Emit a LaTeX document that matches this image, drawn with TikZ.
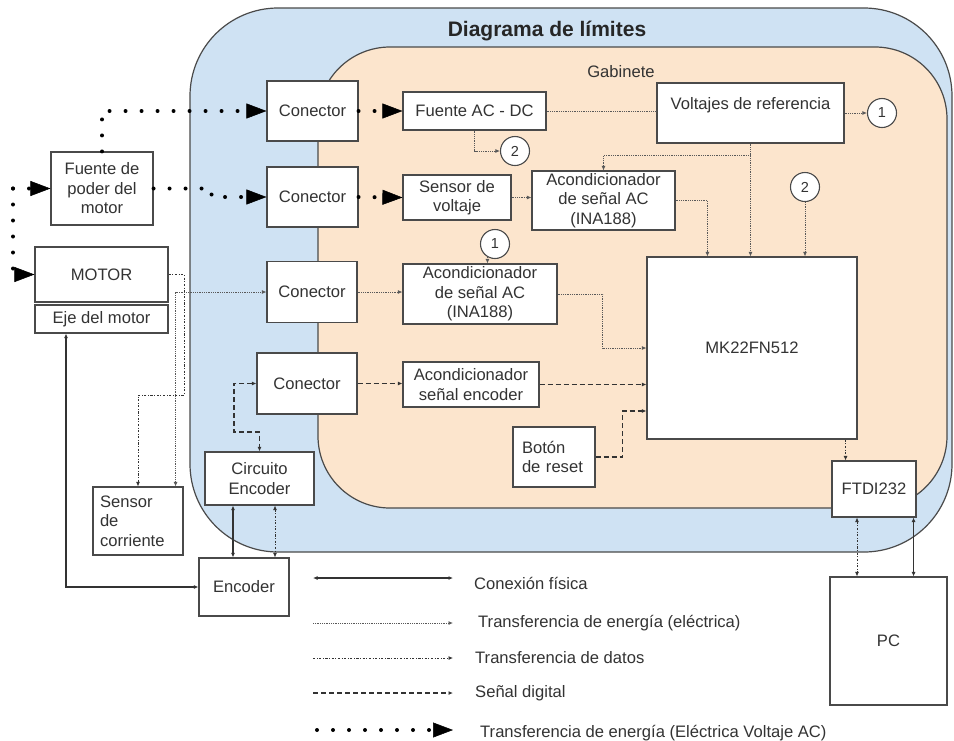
\documentclass[tikz,border=0pt]{standalone}
\usepackage{fontspec}
\setmainfont{Liberation Sans}
\usetikzlibrary{arrows.meta,calc}
\definecolor{bluebg}{HTML}{CFE2F3}
\definecolor{orangebg}{HTML}{FCE5CD}
\definecolor{edge}{HTML}{4A4A4A}
\definecolor{txt}{HTML}{333333}
\begin{document}
\begin{tikzpicture}[x=1pt,y=-1pt,
  font=\fontsize{16.6}{19.5}\selectfont, text=txt,
  >={Latex[length=4.5pt,width=4pt]},
  box/.style={draw=edge, line width=1.1pt, fill=white, inner sep=2pt, align=center},
  circ/.style={circle, draw=edge, line width=1.1pt, fill=white, minimum size=29pt, inner sep=0pt, font=\fontsize{14.5}{16}\selectfont},
  elec/.style={draw=black!65, line width=0.8pt, dash pattern=on 0.8pt off 1pt},
  data/.style={draw=black!80, line width=0.8pt, dash pattern=on 2.2pt off 1.6pt on 0.8pt off 1.6pt},
  dig/.style={draw=black!80, line width=1.1pt, dash pattern=on 5pt off 3pt},
  phys/.style={draw=black!80, line width=1.1pt},
  ac/.style={draw=black, line width=4pt, dash pattern=on 0pt off 16pt, line cap=round,
    -{Triangle[length=20pt,width=15pt,line width=0.5pt]}},
  region/.style={draw=edge, line width=1.2pt}
]
\useasboundingbox (0,0) rectangle (954,740);
% regions
\path[region, fill=bluebg, rounded corners=88pt] (190,8) rectangle (952,552);
\path[region, fill=orangebg, rounded corners=72pt] (318,47) rectangle (947,508);
\node[font=\bfseries\fontsize{21}{24}\selectfont, text=black!85] (title) at (547,31) {Diagrama de límites};
\node (gab) at (621,72) {Gabinete};

% left column
\node[box, minimum width=102pt, minimum height=73pt] (fpm) at (102,188.5) {Fuente de\\poder del\\motor};
\node[box, minimum width=133pt, minimum height=55pt] (motor) at (101.5,274.5) {MOTOR};
\node[box, minimum width=133pt, minimum height=28pt] (eje) at (101.5,319) {Eje del motor};
\node[box, inner xsep=7pt, text width=76pt, align=left, minimum height=68pt] (sc) at (138,521) {Sensor\\de\\corriente};
\node[box, minimum width=90pt, minimum height=58pt] (enc) at (244,587) {Encoder};
\node[box, minimum width=109pt, minimum height=53pt] (cenc) at (259.5,478.5) {Circuito\\Encoder};

% connectors
\node[box, minimum width=91pt, minimum height=60pt] (con1) at (312.5,111) {Conector};
\node[box, minimum width=91pt, minimum height=60pt] (con2) at (312.5,197) {Conector};
\node[box, minimum width=90pt, minimum height=61pt] (con3) at (312,292) {Conector};
\node[box, minimum width=100pt, minimum height=61pt] (con4) at (307,383.5) {Conector};

% cabinet
\node[box, minimum width=143pt, minimum height=38pt] (facdc) at (474.5,111) {Fuente AC - DC};
\node[box, minimum width=108pt, minimum height=45pt] (sv) at (457,197.5) {Sensor de\\voltaje};
\node[box, minimum width=143pt, minimum height=59pt] (acu) at (603.5,200.5) {Acondicionador\\de señal AC\\(INA188)};
\node[box, minimum width=154pt, minimum height=60pt] (acl) at (480,294) {Acondicionador\\de señal AC\\(INA188)};
\node[box, minimum width=136pt, minimum height=45pt] (ace) at (471,384.5) {Acondicionador\\señal encoder};
\node[box, inner xsep=9pt, text width=64pt, align=left, minimum height=60pt] (bot) at (554,457) {Botón\\de reset};
\node[box, minimum width=210pt, minimum height=182pt] (mk) at (752,348) {MK22FN512};
\node[box, minimum width=187pt, minimum height=60pt] (vref) at (750.5,113) {Voltajes de referencia\\\mbox{}};
\node[box, minimum width=84pt, minimum height=56pt] (ftdi) at (874,489) {FTDI232};
\node[box, minimum width=117pt, minimum height=128pt] (pc) at (888.5,641) {PC};

\node[circ] (c1a) at (882,113) {1};
\node[circ] (c2a) at (515,151) {2};
\node[circ] (c1b) at (495,244) {1};
\node[circ] (c2b) at (805,187) {2};

% AC power transfer
\coordinate (src) at (13,188.5);
\draw[ac] (src) -- (fpm.west);
\draw[ac] (src) |- (motor.west);
\draw[ac] (fpm.north) |- (con1.west);
\draw[ac] (fpm.east) -- ++(58,0) |- (con2.west);
\draw[ac] (con1.east) -- (facdc.west);
\draw[ac] (con2.east) -- (sv.west);

% electrical energy
\draw[elec] (facdc.east) -- (vref.west |- facdc.east);
\draw[elec,->] (facdc.south) |- (c2a.west);
\draw[elec,->] (vref.east) -- (c1a.west);
\draw[elec,->] (vref.south) -- (vref.south |- mk.north);
\coordinate (vb) at ($(vref.south)+(0,12)$);
\draw[elec,->] (vb) -| (acu.north);
\draw[elec,->] (acu.east) -| ($(mk.north west)+(61,0)$);
\draw[elec,->] (c2b.south) -- (c2b.south |- mk.north);
\draw[elec,->] (sv.east) -- (sv.east -| acu.west);
\draw[elec,->] (c1b.240) -- (c1b.240 |- acl.north);
\draw[elec,->] (con3.east) -- (con3.east -| acl.west);
\draw[elec,->] (acl.east) -- ++(45,0) |- (mk.west);
\draw[elec,<->] (con3.west) -| ([xshift=-8pt]sc.north east);

% data
\coordinate (d1) at (184,395);
\draw[data,->] (motor.east) -| (d1) -| (sc.north);
\draw[data,<->] ([xshift=15.5pt]cenc.south) -- ([xshift=15.5pt]cenc.south |- enc.north);
\draw[data,->] ([xshift=-12pt]mk.south east) -- ([xshift=-12pt]mk.south east |- ftdi.north);
\draw[data,<->] ([xshift=-17pt]ftdi.south) -- ([xshift=-17pt]ftdi.south |- pc.north);

% physical
\draw[phys,<->] ([xshift=-26.5pt]cenc.south) -- ([xshift=-26.5pt]cenc.south |- enc.north);
\draw[phys,<->] ([xshift=-3pt]ftdi.south east) -- ([xshift=-3pt]ftdi.south east |- pc.north);
\draw[phys,<->] ([xshift=-35.5pt]eje.south) |- (enc.west);

% digital
\coordinate (dg) at (234,432);
\draw[dig,<->] (con4.west) -| (dg) -| (cenc.north);
\draw[dig,->] (con4.east) -- (con4.east -| ace.west);
\draw[dig,->] (ace.east) -- (ace.east -| mk.west);
\draw[dig,->] (bot.east) -- ++(27,0) |- ($(mk.west)+(0,63)$);

% legend
\coordinate (la1) at (313,578); \coordinate (lb1) at (453,578);
\coordinate (la2) at (313,623); \coordinate (lb2) at (453,623);
\coordinate (la3) at (313,658); \coordinate (lb3) at (453,658);
\coordinate (la4) at (313,693); \coordinate (lb4) at (453,693);
\coordinate (la5) at (317,730); \coordinate (lb5) at (453,730);
\draw[phys,<->] (la1) -- (lb1);
\draw[elec,->] (la2) -- (lb2);
\draw[data,->] (la3) -- (lb3);
\draw[dig,->] (la4) -- (lb4);
\draw[ac] (la5) -- (lb5);
\node[anchor=west, inner sep=0pt] (lt1) at (474,583) {Conexión física};
\node[anchor=west, inner sep=0pt] (lt2) at (478,623) {Transferencia de energía (eléctrica)};
\node[anchor=west, inner sep=0pt] (lt3) at (475,658) {Transferencia de datos};
\node[anchor=west, inner sep=0pt] (lt4) at (475,693) {Señal digital};
\node[anchor=west, inner sep=0pt] (lt5) at (480,733) {Transferencia de energía (Eléctrica Voltaje AC)};
\end{tikzpicture}
\end{document}
